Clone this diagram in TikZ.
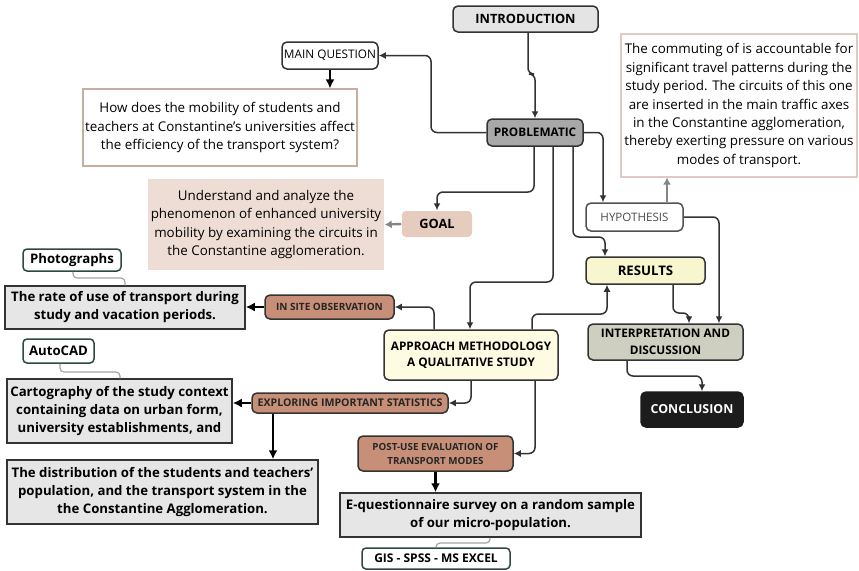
\documentclass[tikz,border=0pt]{standalone}
\usepackage{fontspec}
\setmainfont{Open Sans}
\usepackage{tikz}
\usetikzlibrary{arrows.meta}
\usepackage{xcolor}

\definecolor{boxline}{HTML}{333333}
\definecolor{introfill}{HTML}{E4E4E4}
\definecolor{probfill}{HTML}{A8A8A8}
\definecolor{qline}{HTML}{C6AD9F}
\definecolor{hline}{HTML}{E0CAC1}
\definecolor{goalfill}{HTML}{E6CBBF}
\definecolor{goaltextfill}{HTML}{EEDDD4}
\definecolor{brownfill}{HTML}{C78F77}
\definecolor{greyfill}{HTML}{E6E6E6}
\definecolor{approachfill}{HTML}{FDFBE2}
\definecolor{resultsfill}{HTML}{F8F6CE}
\definecolor{interpfill}{HTML}{CFCFC1}
\definecolor{conclfill}{HTML}{1C1C1C}
\definecolor{toolline}{HTML}{2E4A3E}
\definecolor{softline}{HTML}{A3A3A3}
\definecolor{greyarrow}{HTML}{858585}

\newcommand\bodyfont{\fontsize{6.7}{9.2}\selectfont}
\newcommand\boldbody{\bfseries\fontsize{6.6}{9}\selectfont}
\newcommand\capfont{\bfseries\fontsize{6}{8}\selectfont}
\newcommand\smallcap{\bfseries\fontsize{5}{7}\selectfont}

\tikzset{
	box/.style={draw=boxline, line width=0.75pt, inner sep=0pt, align=center},
	capbox/.style={box, rounded corners=2.5pt, font=\capfont},
	brownbox/.style={box, rounded corners=2.5pt, fill=brownfill, font=\smallcap, text=black!85},
	greybox/.style={box, fill=greyfill, font=\boldbody},
	toolbox/.style={draw=toolline, line width=0.75pt, rounded corners=2pt, fill=white, inner sep=0pt, font=\boldbody},
	link/.style={draw=boxline, line width=0.75pt, rounded corners=3pt, -{Latex[length=3.5pt,width=3.5pt]}},
	boldlink/.style={draw=black, line width=1.1pt, -{Latex[length=4.5pt,width=4.5pt]}},
	greylink/.style={draw=greyarrow, line width=1.2pt, -{Latex[length=3.5pt,width=4pt]}},
	softlink/.style={draw=softline, line width=0.6pt, rounded corners=2pt}
}

\begin{document}
	\begin{tikzpicture}[x=0.5pt, y=-0.5pt]
		\useasboundingbox (0,0) rectangle (859,570);
		
		\node[capbox, fill=introfill, minimum width=72.5pt, minimum height=13pt, font=\bfseries\fontsize{6.4}{8}\selectfont] (intro) at (525.5,19) {INTRODUCTION};
		\node[capbox, fill=white, minimum width=48pt, minimum height=13.5pt, font=\fontsize{5.9}{8}\selectfont] (mainq) at (330,55.5) {MAIN QUESTION};
		\node[box, draw=qline, line width=0.6pt, fill=white, minimum width=137pt, minimum height=38.5pt, font=\bodyfont] (question) at (220,127.5) {How does the mobility of students and\\teachers at Constantine's universities affect\\the efficiency of the transport system?};
		\node[capbox, fill=probfill, minimum width=48pt, minimum height=13.5pt, font=\bfseries\fontsize{5.9}{8}\selectfont] (prob) at (535,132.5) {PROBLEMATIC};
		\node[box, draw=hline, line width=0.6pt, fill=white, minimum width=118pt, minimum height=71.5pt, font=\bodyfont] (hyptext) at (739,105.5) {The commuting of is accountable for\\significant travel patterns during the\\study period. The circuits of this one\\are inserted in the main traffic axes\\in the Constantine agglomeration,\\thereby exerting pressure on various\\modes of transport.};
		\node[box, draw=none, rounded corners=2pt, fill=goalfill, minimum width=35pt, minimum height=13pt, font=\bfseries\fontsize{6.4}{8}\selectfont] (goal) at (437,224) {GOAL};
		\node[box, draw=none, fill=goaltextfill, minimum width=118pt, minimum height=45.5pt, font=\bodyfont] (goaltext) at (266,224.5) {Understand and analyze the\\phenomenon of enhanced university\\mobility by examining the circuits in\\the Constantine agglomeration.};
		\node[capbox, draw=boxline!85, fill=white, minimum width=48.5pt, minimum height=14pt, font=\fontsize{5.8}{8}\selectfont, text=black!70] (hyp) at (634.5,217) {HYPOTHESIS};
		\node[capbox, fill=resultsfill, minimum width=59.5pt, minimum height=13.5pt, font=\bfseries\fontsize{6.6}{8}\selectfont] (results) at (645.5,270.5) {RESULTS};
		\node[capbox, fill=approachfill, minimum width=87pt, minimum height=25pt, font=\bfseries\fontsize{5.9}{8}\selectfont] (approach) at (471,355) {APPROACH METHODOLOGY\\A QUALITATIVE STUDY};
		\node[capbox, fill=interpfill, minimum width=77.5pt, minimum height=18pt, font=\bfseries\fontsize{5.9}{8.3}\selectfont] (interp) at (665.5,342) {INTERPRETATION AND\\DISCUSSION};
		\node[capbox, draw=conclfill, fill=conclfill, text=white, minimum width=51pt, minimum height=17.5pt, font=\bfseries\fontsize{6.2}{8}\selectfont] (concl) at (692,409.5) {CONCLUSION};
		
		\node[toolbox, minimum width=49pt, minimum height=11pt] (photo) at (72,260) {Photographs};
		\node[greybox, minimum width=120pt, minimum height=21.5pt] (rate) at (125,307.5) {The rate of use of transport during\\study and vacation periods.};
		\node[brownbox, minimum width=64.5pt, minimum height=12pt] (insite) at (329.5,307) {IN SITE OBSERVATION};
		\node[toolbox, minimum width=35.5pt, minimum height=12pt] (autocad) at (58.5,351) {AutoCAD};
		\node[greybox, minimum width=112.5pt, minimum height=32pt] (cart) at (119.5,411) {Cartography of the study context\\containing data on urban form,\\university establishments, and};
		\node[brownbox, minimum width=98pt, minimum height=10pt, font=\bfseries\fontsize{5.3}{7}\selectfont] (explore) at (350,403) {EXPLORING IMPORTANT STATISTICS};
		\node[greybox, minimum width=155.5pt, minimum height=32pt] (distrib) at (162.5,492) {The distribution of the students and teachers'\\population, and the transport system in the\\the Constantine Agglomeration.};
		\node[brownbox, minimum width=77.5pt, minimum height=17.5pt, font=\bfseries\fontsize{4.9}{7}\selectfont] (postuse) at (435.5,453.5) {POST-USE EVALUATION OF\\TRANSPORT MODES};
		\node[greybox, minimum width=150.5pt, minimum height=22pt] (equest) at (490.5,515) {E-questionnaire survey on a random sample\\of our micro-population.};
		\node[toolbox, minimum width=74pt, minimum height=10.5pt, font=\bfseries\fontsize{6}{8}\selectfont] (gis) at (436,558.5) {GIS - SPSS - MS EXCEL};
		
		\draw[link] (intro.south -| 528,0) -- (528,74) -| (prob.north);
		\draw[link] (prob.west) -| (431,55.5) -- (mainq.east);
		\draw[boldlink] (mainq.south) -- (mainq.south |- question.north);
		\draw[link] (prob.south -| 534,0) |- (437,192) -- (goal.north);
		\draw[greylink] (goal.west) -- (goaltext.east);
		\draw[link] (prob.south -| 553,0) |- (470,282) -- (approach.north -| 470,0);
		\draw[link] (prob.south -| 573,0) |- (605,237) -- (results.north -| 605,0);
		\draw[link] (prob.east) -| (hyp.north -| 603,0);
		\draw[greylink] (hyp.north -| 667,0) -- (hyptext.south -| 667,0);
		\draw[link] (hyp.east) -| (interp.north -| 719,0);
		\draw[link] (results.south -| 673,0) |- (689,313) -- (interp.north -| 689,0);
		\draw[link] (interp.south -| 627,0) |- (702,376) -- (concl.north -| 702,0);
		\draw[link] (approach.north -| 532,0) |- (607,314) -- (results.south -| 607,0);
		\draw[link] (approach.north -| 434,0) |- (insite.east);
		\draw[boldlink] (insite.west) -- (insite.west -| rate.east);
		\draw[link] (approach.south -| 471,0) |- (explore.east);
		\draw[boldlink] (explore.west) -- (explore.west -| cart.east);
		\draw[boldlink] (explore.south -| 273,0) -- (distrib.north -| 273,0);
		\draw[link] (approach.south -| 535,0) |- (postuse.east);
		\draw[boldlink] (postuse.south) -- (postuse.south |- equest.north);
		\draw[softlink] (photo.south -| 73,0) |- (125,278) -- (rate.north -| 125,0);
		\draw[softlink] (autocad.south -| 60,0) |- (120,372) -- (cart.north -| 120,0);
		\draw[softlink] (equest.south -| 490,0) |- (436,543) -- (gis.north -| 436,0);
	\end{tikzpicture}
\end{document}
